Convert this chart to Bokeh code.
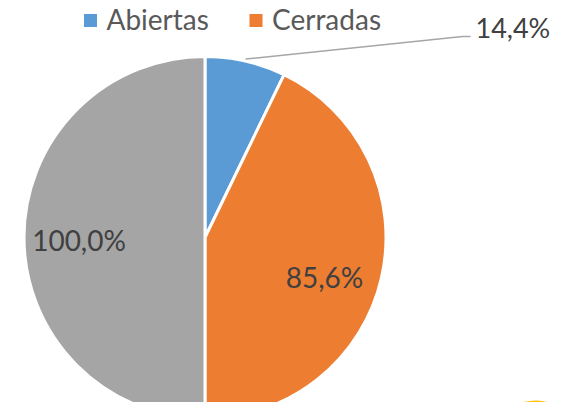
import math
from bokeh.plotting import figure
from bokeh.models import ColumnDataSource, Range1d
from bokeh.core.properties import value
from bokeh.embed import file_html
from bokeh.resources import INLINE

# ---- data ----
categories = ["Abiertas", "Cerradas", "Total"]
values = [14.4, 85.6, 100.0]
labels = ["14,4%", "85,6%", "100,0%"]
colors = ["#5B9BD5", "#ED7D31", "#A5A5A5"]
legend_categories = ["Abiertas", "Cerradas"]

W, H = 551, 402
p = figure(width=W, height=H, output_backend="svg", toolbar_location=None,
           x_range=Range1d(0, W), y_range=Range1d(0, H),
           min_border=0, outline_line_color=None)
p.axis.visible = False
p.grid.visible = False
p.background_fill_color = "white"
p.border_fill_color = "white"

cx, cy, R = 204.5, 165.0, 181.0
total = sum(values)
starts, ends, mids = [], [], []
acc = 0.0
for v in values:
    a0 = math.pi / 2 - 2 * math.pi * acc / total
    acc += v
    a1 = math.pi / 2 - 2 * math.pi * acc / total
    starts.append(a0)
    ends.append(a1)
    mids.append((a0 + a1) / 2)

src = ColumnDataSource(dict(start=starts, end=ends, color=colors))
p.wedge(x=cx, y=cy, radius=R, start_angle="start", end_angle="end",
        direction="clock", fill_color="color", line_color="white",
        line_width=3, source=src)

font = value("Lato")
TXT_SHIFT = 11.0
# inside labels (best-fit style offsets)
offsets = {1: (-3.3, -22.7), 2: (0.0, -13.0)}
lx, ly, lt = [], [], []
for i in (1, 2):
    f = 0.696
    dx, dy = offsets[i]
    lx.append(cx + f * R * math.cos(mids[i]) + dx)
    ly.append(cy + f * R * math.sin(mids[i]) + dy + TXT_SHIFT)
    lt.append(labels[i])
p.text(x=lx, y=ly, text=lt, text_font=font, text_font_size="28px",
       text_color="#404040", text_align="center", text_baseline="alphabetic")

# outside label with leader line for Abiertas
ex = cx + R * math.cos(mids[0])
ey = cy + R * math.sin(mids[0])
kx, ky = 462.0, 366.0
p.line(x=[ex, kx, kx + 8], y=[ey + 2, ky, ky], line_color="#A6A6A6", line_width=1.5)
p.text(x=[kx + 13], y=[ky - 2 + TXT_SHIFT], text=[labels[0]], text_font=font,
       text_font_size="27px", text_color="#404040", text_align="left",
       text_baseline="alphabetic")

# legend
leg_sq_x = [90.0, 255.5]
leg_y = 382.0
p.rect(x=leg_sq_x, y=[leg_y] * 2, width=13, height=13,
       fill_color=colors[:2], line_color=None)
p.text(x=[x + 16 for x in leg_sq_x], y=[373.0 + TXT_SHIFT] * 2, text=legend_categories,
       text_font=font, text_font_size="28px", text_color="#595959",
       text_align="left", text_baseline="alphabetic")

# decorative yellow shape at bottom right
p.wedge(x=535, y=-46, radius=48, start_angle=math.radians(68),
        end_angle=math.radians(150), fill_color="#FFC20E", line_color=None)

open("out.html", "w").write(file_html(p, INLINE))
